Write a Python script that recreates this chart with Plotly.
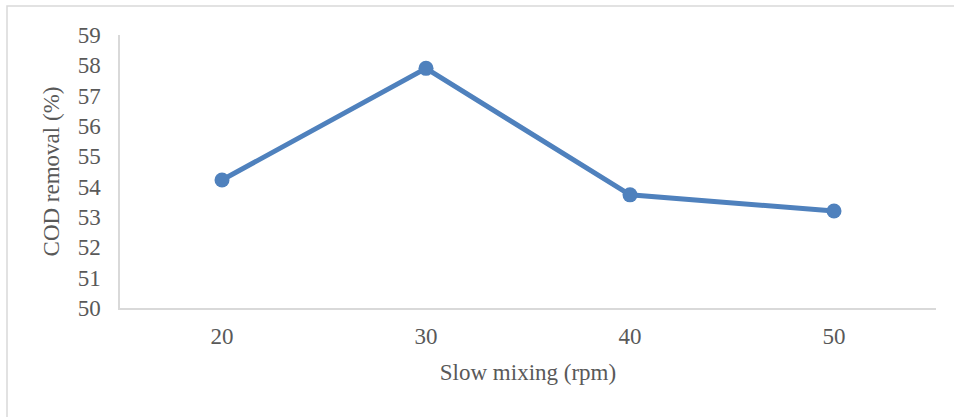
import plotly.graph_objects as go

categories = ["20", "30", "40", "50"]
cod_removal = [54.22, 57.9, 53.73, 53.2]
y_ticks = list(range(50, 60))

W, H = 954, 417
L, R, T, B = 120, 18, 35, 109
pw, ph = W - L - R, H - T - B

fig = go.Figure()
fig.add_trace(go.Scatter(
    x=categories, y=cod_removal, mode="lines+markers",
    line=dict(color="#4f81bd", width=5),
    marker=dict(color="#4f81bd", size=15),
    cliponaxis=False, showlegend=False,
))

font = dict(family="Liberation Serif, Times New Roman, serif", color="#595959", size=23)

fig.update_layout(
    width=W, height=H,
    margin=dict(l=L, r=R, t=T, b=B),
    paper_bgcolor="white", plot_bgcolor="white",
    font=font,
    xaxis=dict(
        type="category", range=[-0.5, 3.5],
        showgrid=False, showline=True, linecolor="#d9d9d9", linewidth=2,
        ticks="", ticklabelstandoff=6,
        title=dict(text="Slow mixing (rpm)", font=font, standoff=16),
        zeroline=False,
    ),
    yaxis=dict(
        range=[50, 59], tickvals=y_ticks, showgrid=False,
        showline=True, linecolor="#d9d9d9", linewidth=1.5,
        ticks="", ticklabelstandoff=13,
        title=dict(text="COD removal (%)", font=font, standoff=12),
        zeroline=False,
    ),
    shapes=[dict(
        type="rect", xref="paper", yref="paper",
        x0=(7 - L) / pw, x1=(W + 10 - L) / pw,
        y0=(H - B - (H + 10)) / ph, y1=(H - B - 6) / ph,
        line=dict(color="#d9d9d9", width=1.5), layer="below",
    )],
)

fig.write_html("out.html")
